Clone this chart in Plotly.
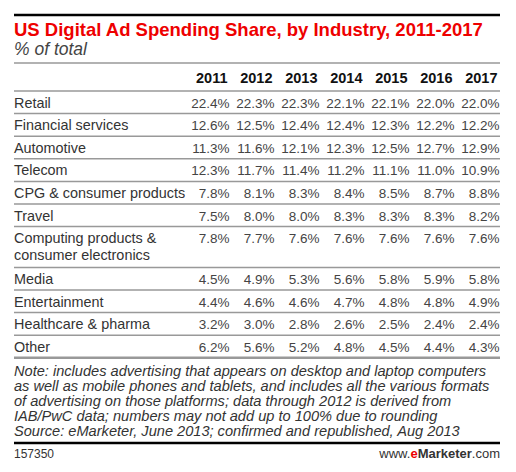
import plotly.graph_objects as go

# ---------------- data ----------------
TITLE = "US Digital Ad Spending Share, by Industry, 2011-2017"
SUBTITLE = "% of total"
YEARS = ["2011", "2012", "2013", "2014", "2015", "2016", "2017"]
INDUSTRIES = [
    "Retail",
    "Financial services",
    "Automotive",
    "Telecom",
    "CPG & consumer products",
    "Travel",
    "Computing products &\nconsumer electronics",
    "Media",
    "Entertainment",
    "Healthcare & pharma",
    "Other",
]
RETAIL = [22.4, 22.3, 22.3, 22.1, 22.1, 22.0, 22.0]
FINANCIAL = [12.6, 12.5, 12.4, 12.4, 12.3, 12.2, 12.2]
AUTOMOTIVE = [11.3, 11.6, 12.1, 12.3, 12.5, 12.7, 12.9]
TELECOM = [12.3, 11.7, 11.4, 11.2, 11.1, 11.0, 10.9]
CPG = [7.8, 8.1, 8.3, 8.4, 8.5, 8.7, 8.8]
TRAVEL = [7.5, 8.0, 8.0, 8.3, 8.3, 8.3, 8.2]
COMPUTING = [7.8, 7.7, 7.6, 7.6, 7.6, 7.6, 7.6]
MEDIA = [4.5, 4.9, 5.3, 5.6, 5.8, 5.9, 5.8]
ENTERTAINMENT = [4.4, 4.6, 4.6, 4.7, 4.8, 4.8, 4.9]
HEALTHCARE = [3.2, 3.0, 2.8, 2.6, 2.5, 2.4, 2.4]
OTHER = [6.2, 5.6, 5.2, 4.8, 4.5, 4.4, 4.3]
VALUES = [RETAIL, FINANCIAL, AUTOMOTIVE, TELECOM, CPG, TRAVEL, COMPUTING,
          MEDIA, ENTERTAINMENT, HEALTHCARE, OTHER]
NOTE_LINES = [
    "Note: includes advertising that appears on desktop and laptop computers",
    "as well as mobile phones and tablets, and includes all the various formats",
    "of advertising on those platforms; data through 2012 is derived from",
    "IAB/PwC data; numbers may not add up to 100% due to rounding",
    "Source: eMarketer, June 2013; confirmed and republished, Aug 2013",
]
CHART_ID = "157350"

# ---------------- layout constants ----------------
PAGE_W, PAGE_H = 516, 472
BODY_MARGIN = 8          # default browser body margin around the plot div
W, H = PAGE_W - 2 * BODY_MARGIN, PAGE_H - 2 * BODY_MARGIN
LEFT, RIGHT = 14, 500
COL_RIGHT0, COL_STEP = 229.5, 45
TOP_RULE_Y = 15
SUB_RULE_Y = 63
HEADER_BASE = 83
HEAD_RULE_Y = 91
ROW_H = 22.6
LINE_H = 16.5
BASE_OFF = 16.6
BOTTOM_RULE_Y = 443
NOTE_BASE0, NOTE_STEP = 376, 15.0
FOOT_BASE = 458

FONT = "Liberation Sans, Arial, sans-serif"
LABEL_FS = 14.4
VALUE_FS = 13.5
HEAD_FS = 14.5
TITLE_FS = 18.5
SUB_FS = 17.5
NOTE_FS = 14.6


def y_for_baseline(baseline, fs):
    # scatter text with 'middle' position: baseline = y + 0.25*fs
    return baseline - 0.25 * fs


fig = go.Figure()

# row geometry
row_tops = []
y = HEAD_RULE_Y
for lab in INDUSTRIES:
    row_tops.append(y)
    n = lab.count("\n") + 1
    y += ROW_H + (n - 1) * (ROW_H - 4.4)
row_bottom = y

# labels (each line placed separately)
lx, ly, lt = [], [], []
for top, lab in zip(row_tops, INDUSTRIES):
    for j, part in enumerate(lab.split("\n")):
        lx.append(LEFT)
        ly.append(y_for_baseline(top + BASE_OFF + j * LINE_H, LABEL_FS))
        lt.append(part)
fig.add_trace(go.Scatter(
    x=lx, y=ly, text=lt, mode="text", textposition="middle right",
    textfont=dict(family=FONT, size=LABEL_FS, color="#333333"),
    hoverinfo="skip", showlegend=False))

# values
vx, vy, vt = [], [], []
for top, row in zip(row_tops, VALUES):
    for c, v in enumerate(row):
        vx.append(COL_RIGHT0 + c * COL_STEP)
        vy.append(y_for_baseline(top + BASE_OFF, VALUE_FS))
        vt.append(f"{v:.1f}%")
fig.add_trace(go.Scatter(
    x=vx, y=vy, text=vt, mode="text", textposition="middle left",
    textfont=dict(family=FONT, size=VALUE_FS, color="#444444"),
    hoverinfo="skip", showlegend=False))

# header years
fig.add_trace(go.Scatter(
    x=[COL_RIGHT0 - 2 + c * COL_STEP for c in range(len(YEARS))],
    y=[y_for_baseline(HEADER_BASE, HEAD_FS)] * len(YEARS),
    text=YEARS, mode="text", textposition="middle left",
    textfont=dict(family=FONT, size=HEAD_FS, color="#111111", weight="bold"),
    hoverinfo="skip", showlegend=False))

# title / subtitle / notes / footer
fig.add_trace(go.Scatter(
    x=[LEFT], y=[y_for_baseline(36, TITLE_FS)], text=[TITLE], mode="text",
    textposition="middle right",
    textfont=dict(family=FONT, size=TITLE_FS, color="#EE0000", weight="bold"),
    hoverinfo="skip", showlegend=False))
fig.add_trace(go.Scatter(
    x=[LEFT], y=[y_for_baseline(55, SUB_FS)], text=[SUBTITLE], mode="text",
    textposition="middle right",
    textfont=dict(family=FONT, size=SUB_FS, color="#444444", style="italic"),
    hoverinfo="skip", showlegend=False))
fig.add_trace(go.Scatter(
    x=[LEFT] * len(NOTE_LINES),
    y=[y_for_baseline(NOTE_BASE0 + i * NOTE_STEP, NOTE_FS) for i in range(len(NOTE_LINES))],
    text=NOTE_LINES, mode="text", textposition="middle right",
    textfont=dict(family=FONT, size=NOTE_FS, color="#333333", style="italic"),
    hoverinfo="skip", showlegend=False))
fig.add_trace(go.Scatter(
    x=[LEFT], y=[y_for_baseline(FOOT_BASE, 12)], text=[CHART_ID], mode="text",
    textposition="middle right",
    textfont=dict(family=FONT, size=12, color="#333333"),
    hoverinfo="skip", showlegend=False))
fig.add_trace(go.Scatter(
    x=[RIGHT], y=[y_for_baseline(FOOT_BASE, 13)],
    text=["www.<span style='color:#EE0000'><b>e</b></span><b>Marketer</b>.com"],
    mode="text", textposition="middle left",
    textfont=dict(family=FONT, size=13, color="#333333"),
    hoverinfo="skip", showlegend=False))

# rules
shapes = []
def hline(yy, color, width):
    shapes.append(dict(type="line", xref="x", yref="y", x0=LEFT, x1=RIGHT,
                       y0=yy, y1=yy, line=dict(color=color, width=width)))

hline(TOP_RULE_Y, "#000000", 2.5)
hline(SUB_RULE_Y, "#999999", 1.5)
hline(HEAD_RULE_Y, "#999999", 1.5)
for top in row_tops[1:]:
    hline(top, "#999999", 1.5)
hline(row_bottom, "#999999", 2.5)
hline(BOTTOM_RULE_Y, "#000000", 2.5)

# axis ranges offset by the body margin so that data units equal page pixels
fig.update_layout(
    width=W, height=H, margin=dict(l=0, r=0, t=0, b=0),
    paper_bgcolor="white", plot_bgcolor="white",
    shapes=shapes,
    xaxis=dict(range=[BODY_MARGIN, BODY_MARGIN + W], visible=False, fixedrange=True),
    yaxis=dict(range=[BODY_MARGIN + H, BODY_MARGIN], visible=False, fixedrange=True),
    showlegend=False,
)

fig.write_html("out.html")
